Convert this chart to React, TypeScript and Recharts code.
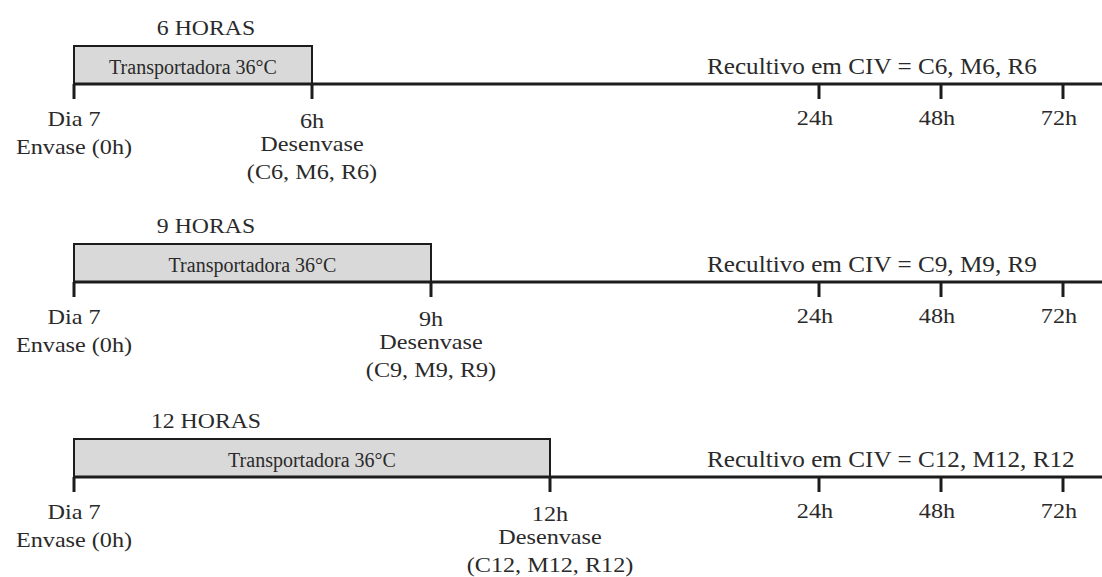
import React from "react"
import { ComposedChart, Line, XAxis, YAxis, ReferenceArea, ReferenceDot } from "recharts"

// tempos de transporte (h) e grupos de cada esquema
const TRANSPORT_HOURS = [6, 9, 12]
const PANEL_TITLES = ["6 HORAS", "9 HORAS", "12 HORAS"]
const GROUPS = [
  ["C6", "M6", "R6"],
  ["C9", "M9", "R9"],
  ["C12", "M12", "R12"],
]
const CULTURE_HOURS = [24, 48, 72]
const START_LABELS = ["Dia 7", "Envase (0h)"]
const END_LABEL = "Desenvase"
const BOX_LABEL = "Transportadora 36°C"
const CULTURE_LABEL = "Recultivo em CIV"
const CULTURE_LABEL_AT = 19 // hora onde começa o texto do recultivo

// eixo quebrado: horas -> unidades do eixo
const BREAK_HOURS = [0, 12, 24, 72]
const BREAK_UNITS = [0, 476, 745, 989]
const AXIS_MAX = 1028

const INK = "#1c1c1c"
const TEXT = "#2a2a2a"
const FONT = "'Liberation Serif', 'Times New Roman', serif"
const PANEL_TOPS = [0, 198, 393]

function toAxis(h: number) {
  for (let i = 1; i < BREAK_HOURS.length; i++) {
    if (h <= BREAK_HOURS[i] || i === BREAK_HOURS.length - 1) {
      const h0 = BREAK_HOURS[i - 1]
      const h1 = BREAK_HOURS[i]
      const u0 = BREAK_UNITS[i - 1]
      const u1 = BREAK_UNITS[i]
      return u0 + ((h - h0) / (h1 - h0)) * (u1 - u0)
    }
  }
  return 0
}

function Txt({ x, y, size, sx = 1, anchor = "middle", children }: any) {
  return (
    <text
      transform={`translate(${x} ${y}) scale(${sx} 1)`}
      textAnchor={anchor}
      fontSize={size}
      fontFamily={FONT}
      fill={TEXT}
    >
      {children}
    </text>
  )
}

function Panel({ idx }: { idx: number }) {
  const end = TRANSPORT_HOURS[idx]
  const hours = [0, end, ...CULTURE_HOURS]
  const data = hours.map((h) => ({ x: toAxis(h), y: 0 }))
  const codes = GROUPS[idx].join(", ")

  const renderTick = (props: any) => {
    const { x, y, payload } = props
    const h = hours.find((v) => Math.abs(toAxis(v) - payload.value) < 0.01)
    if (h === 0) {
      return (
        <g>
          <Txt x={x} y={y + 27} size={22} sx={1.1}>{START_LABELS[0]}</Txt>
          <Txt x={x} y={y + 55} size={22} sx={1.1}>{START_LABELS[1]}</Txt>
        </g>
      )
    }
    if (h === end) {
      return (
        <g>
          <Txt x={x} y={y + 29} size={22} sx={1.1}>{`${end}h`}</Txt>
          <Txt x={x} y={y + 52} size={22} sx={1.1}>{END_LABEL}</Txt>
          <Txt x={x} y={y + 80} size={22} sx={1.1}>{`(${codes})`}</Txt>
        </g>
      )
    }
    return (
      <Txt x={x - 4} y={y + 26} size={22} sx={1.1}>{`${h}h`}</Txt>
    )
  }

  const boxLabel = (props: any) => {
    const vb = props.viewBox
    return (
      <g>
        <Txt x={vb.x + 132} y={vb.y - 11} size={22} sx={1.08}>{PANEL_TITLES[idx]}</Txt>
        <Txt x={vb.x + vb.width / 2} y={vb.y + 28} size={20}>{BOX_LABEL}</Txt>
      </g>
    )
  }

  const cultureLabel = (props: any) => {
    const vb = props.viewBox
    return (
      <Txt x={vb.x + vb.width / 2} y={vb.y + vb.height / 2 + 8} size={24} sx={1.05} anchor="start">
        {`${CULTURE_LABEL} = ${codes}`}
      </Txt>
    )
  }

  return (
    <div style={{ position: "absolute", left: 0, top: PANEL_TOPS[idx] }}>
      <ComposedChart width={1102} height={198} data={data} margin={{ top: 0, right: 0, bottom: 0, left: 74 }}>
        <XAxis
          type="number"
          dataKey="x"
          domain={[0, AXIS_MAX]}
          ticks={data.map((d) => d.x)}
          interval={0}
          height={114}
          tickSize={15}
          tickMargin={0}
          axisLine={{ stroke: INK, strokeWidth: 3 }}
          tickLine={{ stroke: INK, strokeWidth: 3 }}
          tick={renderTick}
          allowDataOverflow
        />
        <YAxis hide type="number" domain={[0, 84]} />
        <ReferenceArea
          x1={toAxis(0)}
          x2={toAxis(end)}
          y1={0}
          y2={38}
          fill="#d9d9d9"
          fillOpacity={1}
          stroke={INK}
          strokeWidth={2}
          label={boxLabel}
        />
        <ReferenceDot
          x={toAxis(CULTURE_LABEL_AT)}
          y={18}
          r={1}
          fill="none"
          stroke="none"
          label={cultureLabel}
        />
        <Line dataKey="y" stroke="none" dot={false} isAnimationActive={false} />
      </ComposedChart>
    </div>
  )
}

export default function App() {
  return (
    <div
      style={{
        position: "absolute",
        left: 0,
        top: 0,
        width: 1102,
        height: 577,
        overflow: "hidden",
        background: "#fff",
      }}
    >
      {TRANSPORT_HOURS.map((_, i) => (
        <Panel key={i} idx={i} />
      ))}
    </div>
  )
}
